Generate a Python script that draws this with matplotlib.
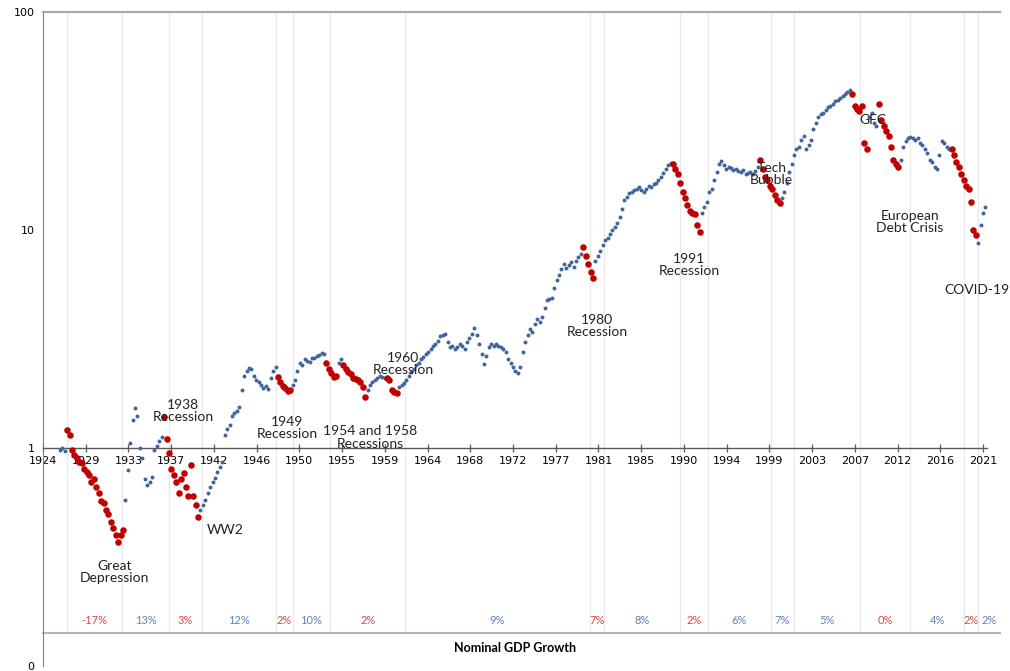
import matplotlib
matplotlib.use("Agg")
import matplotlib.pyplot as plt
import numpy as np
import pandas as pd

# Quarterly index level (log scale), first point Q4 1925, one row per year
index_q = [
    0.98,
    1.00, 0.97, 1.21, 1.15,   # 1926
    0.98, 0.93, 0.90, 0.86,
    0.85, 0.80, 0.78, 0.75,
    0.70, 0.72, 0.66, 0.62,
    0.57, 0.56, 0.52, 0.50,   # 1930
    0.46, 0.43, 0.40, 0.37,
    0.40, 0.42, 0.58, 0.79,
    1.05, 1.35, 1.52, 1.40,
    1.00, 0.90, 0.72, 0.68,
    0.70, 0.74, 0.98, 1.02,   # 1935
    1.08, 1.12, 1.39, 1.10,
    0.95, 0.80, 0.75, 0.70,
    0.62, 0.72, 0.77, 0.66,
    0.60, 0.84, 0.60, 0.55,
    0.48, 0.52, 0.55, 0.58,   # 1940
    0.62, 0.66, 0.70, 0.73,
    0.78, 0.82, 0.86, 1.15,
    1.22, 1.28, 1.40, 1.45,
    1.48, 1.55, 1.85, 2.15,
    2.25, 2.33, 2.30, 2.15,   # 1945
    2.05, 2.00, 1.95, 1.88,
    1.92, 1.86, 2.10, 2.25,
    2.35, 2.12, 2.00, 1.92,
    1.88, 1.82, 1.85, 1.95,
    2.05, 2.25, 2.45, 2.40,   # 1950
    2.55, 2.50, 2.48, 2.58,
    2.60, 2.65, 2.68, 2.72,
    2.70, 2.45, 2.30, 2.20,
    2.12, 2.15, 2.45, 2.55,
    2.40, 2.30, 2.22, 2.18,   # 1955
    2.10, 2.08, 2.05, 2.00,
    1.90, 1.72, 1.85, 1.95,
    2.00, 2.05, 2.10, 2.15,
    2.12, 2.10, 2.10, 2.05,
    1.85, 1.80, 1.78, 1.90,   # 1960
    1.95, 1.98, 2.05, 2.15,
    2.22, 2.30, 2.40, 2.45,
    2.55, 2.62, 2.70, 2.75,
    2.85, 2.95, 3.00, 3.10,
    3.25, 3.30, 3.35, 3.05,   # 1965
    2.90, 2.95, 2.85, 2.90,
    3.00, 2.95, 2.85, 3.05,
    3.20, 3.35, 3.55, 3.30,
    3.00, 2.70, 2.42, 2.65,
    2.90, 3.00, 2.95, 3.00,   # 1970
    2.95, 2.90, 2.85, 2.75,
    2.55, 2.45, 2.35, 2.25,
    2.20, 2.35, 2.75, 3.05,
    3.30, 3.50, 3.40, 3.70,
    3.90, 3.80, 4.00, 4.40,   # 1975
    4.75, 4.85, 4.90, 5.40,
    5.90, 6.20, 6.60, 7.00,
    6.70, 6.90, 7.10, 6.80,
    7.20, 7.50, 7.80, 8.40,
    7.60, 7.00, 6.40, 6.00,   # 1980
    7.20, 7.60, 8.00, 8.50,
    9.00, 9.20, 9.60, 10.0,
    10.3, 10.8, 11.5, 12.5,
    13.8, 14.2, 14.8, 15.0,
    15.2, 15.5, 15.8, 15.2,   # 1985
    15.0, 15.5, 16.0, 15.8,
    16.2, 16.5, 17.0, 17.5,
    18.2, 19.0, 19.8, 20.3,
    20.0, 19.0, 18.0, 16.5,
    15.0, 14.0, 13.0, 12.2,   # 1990
    12.0, 11.8, 10.5, 9.8,
    12.0, 12.8, 13.5, 15.0,
    15.5, 17.0, 18.5, 20.0,
    20.8, 19.8, 19.0, 19.5,
    19.2, 18.8, 19.0, 18.6,   # 1995
    18.5, 18.8, 18.0, 18.2,
    18.5, 18.0, 18.6, 19.5,
    21.0, 19.0, 17.5, 17.0,
    16.0, 15.5, 14.5, 13.8,
    13.3, 14.0, 15.0, 16.5,   # 2000
    18.5, 20.0, 22.0, 23.5,
    24.0, 26.0, 27.0, 23.5,
    24.5, 26.0, 29.0, 31.0,
    33.0, 34.0, 34.5, 35.5,
    36.5, 37.0, 38.0, 39.0,   # 2005
    39.5, 40.5, 41.0, 42.0,
    43.0, 44.0, 42.0, 37.0,
    36.0, 35.0, 37.0, 25.0,
    23.5, 33.0, 34.5, 31.0,
    30.0, 38.0, 32.0, 30.0,   # 2010
    28.5, 27.0, 24.0, 21.0,
    20.0, 19.5, 21.0, 24.0,
    25.5, 26.5, 26.8, 26.5,
    26.0, 26.5, 25.0, 24.5,
    23.5, 22.5, 21.0, 20.5,   # 2015
    19.5, 19.0, 22.0, 25.5,
    25.0, 24.0, 23.5, 23.5,
    22.0, 20.5, 19.5, 18.0,
    17.0, 16.0, 15.5, 13.5,
    10.0, 9.5, 8.7, 10.5,     # 2020
    12.0, 12.8,
]

# Market drawdowns shown in red (decimal years, inclusive)
red_periods = [
    (1926.5, 1932.25), (1936.5, 1940.0), (1948.25, 1949.5), (1953.25, 1954.25),
    (1955.0, 1957.25), (1959.5, 1960.5), (1979.75, 1980.75), (1989.0, 1991.75),
    (1998.0, 2000.0), (2007.5, 2009.0), (2010.25, 2012.25), (2017.75, 2020.25),
]

# Nominal GDP growth bands along the bottom
band_edges = [1926.45, 1932.2, 1937.0, 1940.4, 1948.0, 1949.8, 1953.6, 1961.4,
              1980.4, 1981.9, 1989.7, 1992.6, 1999.1, 2001.5, 2008.3, 2013.5,
              2019.0, 2020.5, 2022.75]
band_growth = ["-17%", "13%", "3%", "12%", "2%", "10%", "2%", "9%", "7%",
               "8%", "2%", "6%", "7%", "5%", "0%", "4%", "2%", "2%"]
band_recession = [1, 0, 1, 0, 1, 0, 1, 0, 1, 0, 1, 0, 0, 0, 1, 0, 1, 0]

year_labels = ["1924", "1929", "1933", "1937", "1942", "1946", "1950", "1955",
               "1959", "1964", "1968", "1972", "1977", "1981", "1985", "1990",
               "1994", "1999", "2003", "2007", "2012", "2016", "2021"]

events = [
    ("Great\nDepression", 1931.4, 0.27),
    ("1938\nRecession", 1938.45, 1.48),
    ("WW2", 1942.8, 0.42),
    ("1949\nRecession", 1949.2, 1.235),
    ("1954 and 1958\nRecessions", 1957.75, 1.12),
    ("1960\nRecession", 1961.15, 2.43),
    ("1980\nRecession", 1981.2, 3.63),
    ("1991\nRecession", 1990.65, 6.9),
    ("Tech\nBubble", 1999.2, 18.1),
    ("GFC", 2009.65, 32.0),
    ("European\nDebt Crisis", 2013.45, 10.9),
    ("COVID-19", 2020.4, 5.3),
]

dates = pd.date_range("1925-10-01", periods=len(index_q), freq="QS")
t = dates.year + (dates.month - 1) / 12.0
vals = np.array(index_q)
in_red = np.zeros(len(t), dtype=bool)
for a, b in red_periods:
    in_red |= (t >= a - 1e-9) & (t <= b + 1e-9)

BLUE = "#41649c"
RED = "#c00000"
TXT_RED = "#d84a4a"
TXT_BLUE = "#5f82bd"

fig = plt.figure(figsize=(10.1, 6.71), dpi=100)
ax = fig.add_axes([43 / 1010, 5 / 671, 957 / 1010, 654 / 671])
ax.set_yscale("log")
ax.set_xlim(1924, 2022.75)
ax.set_ylim(0.1, 100)

# band separators
ax.vlines(band_edges[:-1], 0.0505, 1, transform=ax.get_xaxis_transform(),
          color="#e9e9e9", lw=0.9, zorder=0)

ax.scatter(t[~in_red], vals[~in_red], s=8, color=BLUE, lw=0, zorder=3)
ax.scatter(t[in_red], vals[in_red], s=22, color=RED, lw=0, zorder=4)

for label, x, y in events:
    ax.text(x, y, label, ha="center", va="center", fontsize=10,
            family="Lato", color="#222222", linespacing=1.05, zorder=5)

# growth row
xt = ax.get_xaxis_transform()
for i, g in enumerate(band_growth):
    mid = (band_edges[i] + band_edges[i + 1]) / 2
    ax.text(mid, 0.0703, g, transform=xt, ha="center", va="center",
            fontsize=8, family="Lato",
            color=TXT_RED if band_recession[i] else TXT_BLUE)
ax.plot([0, 1], [0.0505, 0.0505], transform=ax.transAxes, color="#b5b5b5",
        lw=1.5, clip_on=False)
ax.text(1972.7, 0.0275, "Nominal GDP Growth", transform=xt, ha="center",
        va="center", fontsize=9, fontweight="bold", family="Lato")

# axes styling
ax.spines["right"].set_visible(False)
ax.spines["top"].set_color("#a8a8a8")
ax.spines["top"].set_linewidth(1.5)
ax.spines["left"].set_color("#808080")
ax.spines["bottom"].set_position(("data", 1))
ax.spines["bottom"].set_bounds(1924, 2021.4)
ax.spines["bottom"].set_color("#595959")
ax.spines["bottom"].set_linewidth(1.0)

ax.set_xticks(np.linspace(1924, 2021, len(year_labels)))
ax.set_xticklabels(year_labels)
ax.tick_params(axis="x", direction="inout", length=6, width=0.9,
               color="#595959", labelsize=8, pad=3)
ax.set_yticks([0.1, 1, 10, 100])
ax.set_yticklabels(["0", "1", "10", "100"])
ax.yaxis.set_minor_locator(matplotlib.ticker.NullLocator())
ax.tick_params(axis="y", length=0, labelsize=8, pad=6)

fig.savefig("out.png", dpi=100)
